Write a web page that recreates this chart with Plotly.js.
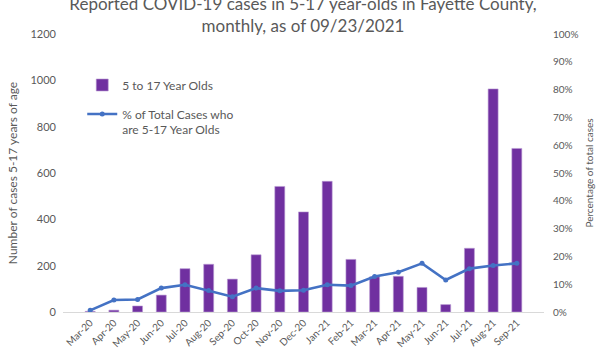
<!DOCTYPE html>
<html>
<head>
<meta charset="utf-8">
<script src="https://cdn.plot.ly/plotly-3.0.1.min.js"></script>
<style>html,body{margin:0;padding:0;background:#fff;}#chart{width:600px;height:350px;}</style>
</head>
<body>
<div id="chart"></div>
<script>
const months = ["Mar-20","Apr-20","May-20","Jun-20","Jul-20","Aug-20","Sep-20","Oct-20","Nov-20","Dec-20","Jan-21","Feb-21","Mar-21","Apr-21","May-21","Jun-21","Jul-21","Aug-21","Sep-21"];
const cases = [3,8,26,73,187,206,142,247,542,432,564,227,152,154,106,32,275,963,706];
const pctOfTotal = [0.6,4.3,4.5,8.6,9.8,7.7,5.5,8.6,7.6,7.8,9.8,9.5,12.8,14.3,17.5,11.5,15.6,16.7,17.5];
const leftTicks = [0,200,400,600,800,1000,1200];
const rightTicks = [0,10,20,30,40,50,60,70,80,90,100];
const rightTickText = ["0%","10%","20%","30%","40%","50%","60%","70%","80%","90%","100%"];

const FONT = "Lato, 'Open Sans', sans-serif";
const GREY = "#595959";

const traces = [
  {
    type: "bar", x: months, y: cases, name: "5 to 17 Year Olds",
    marker: {color: "#7030A0", line: {color: "#b99ad3", width: 0.6}},
    legendgroup: "a", hoverinfo: "skip"
  },
  {
    type: "scatter", mode: "lines+markers", x: months, y: pctOfTotal, yaxis: "y2",
    name: "% of Total Cases who<br>are 5-17 Year Olds",
    line: {color: "#4472C4", width: 2.6},
    marker: {color: "#4472C4", size: 5},
    legendgroup: "b", hoverinfo: "skip"
  }
];

const layout = {
  width: 600, height: 350,
  margin: {l: 63, r: 56, t: 34, b: 38},
  paper_bgcolor: "#fff", plot_bgcolor: "#fff",
  font: {family: FONT, color: GREY, size: 11},
  title: {
    text: "Reported COVID-19 cases in 5-17 year-olds in Fayette County,<br>monthly, as of 09/23/2021",
    font: {family: FONT, size: 17, color: GREY},
    x: 0.505, xanchor: "center", y: 1 - 10/350, yanchor: "middle", yref: "container"
  },
  bargap: 0.58,
  showlegend: true,
  legend: {
    x: 0.04, y: 0.868, xanchor: "left", yanchor: "top",
    bgcolor: "rgba(0,0,0,0)", font: {family: FONT, size: 12, color: GREY},
    traceorder: "grouped", tracegroupgap: 10, valign: "top"
  },
  xaxis: {
    type: "category", tickangle: -45, showgrid: false, zeroline: false,
    showline: true, linecolor: "#d9d9d9", linewidth: 1, ticks: "",
    tickfont: {family: FONT, size: 10, color: GREY}, fixedrange: true
  },
  yaxis: {
    range: [0, 1200], tickvals: leftTicks, showgrid: false, zeroline: false,
    showline: false, ticks: "", ticklabelstandoff: 6,
    tickfont: {family: FONT, size: 11, color: GREY},
    title: {text: "Number of cases 5-17 years of age", font: {family: FONT, size: 12, color: GREY}, standoff: 10}
  },
  yaxis2: {
    range: [0, 100], tickmode: "array", tickvals: rightTicks, ticktext: rightTickText,
    overlaying: "y", side: "right",
    showgrid: false, zeroline: false, showline: false, ticks: "", ticklabelstandoff: 8,
    tickfont: {family: FONT, size: 10, color: GREY},
    title: {text: "Percentage of total cases", font: {family: FONT, size: 10, color: GREY}, standoff: 8}
  }
};

Plotly.newPlot("chart", traces, layout, {displayModeBar: false, staticPlot: true});
</script>
</body>
</html>
